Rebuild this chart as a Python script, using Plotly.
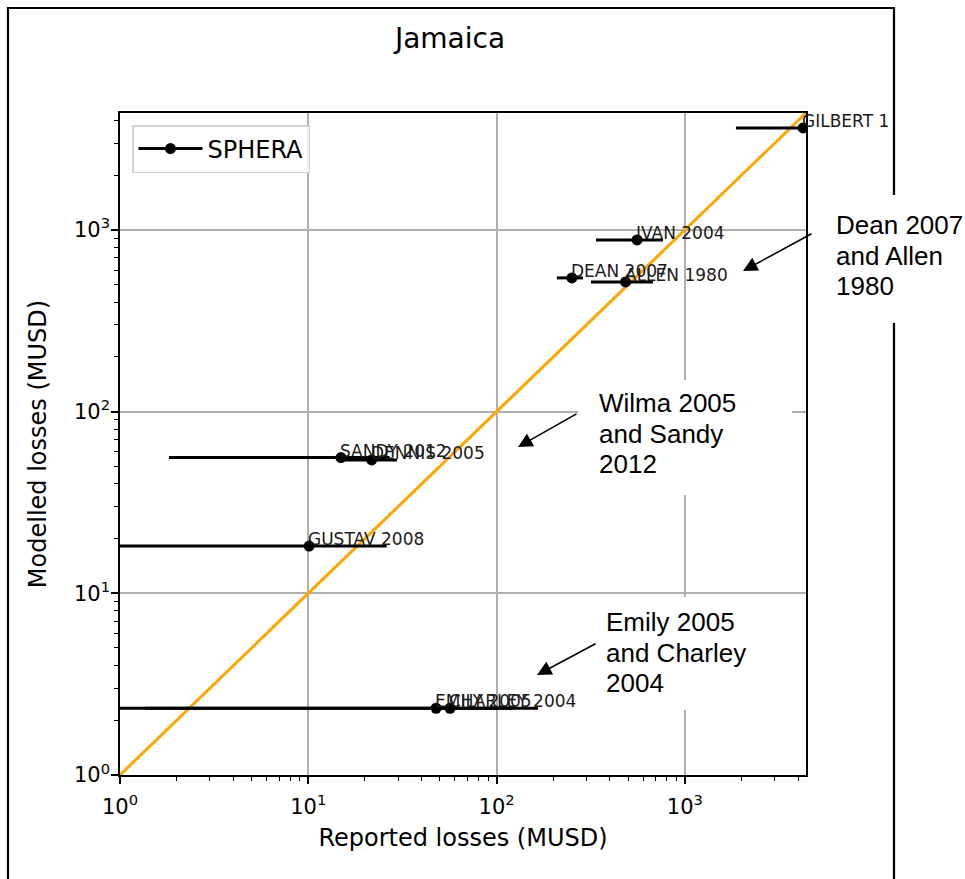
import math
import plotly.graph_objects as go

# ---------------- data ----------------
storm_names = ["GILBERT 1", "IVAN 2004", "DEAN 2007", "ALLEN 1980", "SANDY 2012",
               "DENNIS 2005", "GUSTAV 2008", "EMILY 2005", "CHARLEY 2004"]
reported = [4240, 557, 251, 484, 14.9, 21.7, 10.1, 47.7, 56.6]
modelled = [3640, 880, 544, 517, 55.8, 54.2, 18.2, 2.33, 2.33]
reported_low = [1866, 337, 209, 317, 1.82, 15.3, 0.5, 0.6, 1.36]
reported_high = [6000, 765, 288, 677, 27.0, 29.6, 26.1, 120, 166]
axis_limits = [1, 4400]
tick_values = [1, 10, 100, 1000]
tick_labels = ["10<sup>0</sup>", "10<sup>1</sup>", "10<sup>2</sup>", "10<sup>3</sup>"]
callout_texts = [["Dean 2007", "and Allen", "1980"],
                 ["Wilma 2005", "and Sandy", "2012"],
                 ["Emily 2005", "and Charley", "2004"]]

# ---------------- geometry helpers (pixels -> paper) ----------------
W, H = 965, 879
L, R, T, B = 120, 806, 113, 775
PW, PH = R - L, B - T


def px(xp):
    return (xp - L) / PW


def py(yp):
    return (B - yp) / PH


MPL = "DejaVu Sans"
ARIAL = "Liberation Sans"

err_plus = [h - x for h, x in zip(reported_high, reported)]
err_minus = [x - lo for x, lo in zip(reported, reported_low)]

fig = go.Figure()

# diagonal 1:1 line
fig.add_trace(go.Scatter(x=axis_limits, y=axis_limits, mode="lines",
                         line=dict(color="#FFA500", width=3), showlegend=False,
                         hoverinfo="skip"))

# data with horizontal error bars
fig.add_trace(go.Scatter(
    x=reported, y=modelled, mode="markers",
    marker=dict(color="black", size=11),
    error_x=dict(type="data", symmetric=False, array=err_plus, arrayminus=err_minus,
                 color="black", thickness=3, width=0),
    showlegend=False, text=storm_names))

# legend entry
fig.add_trace(go.Scatter(x=[None], y=[None], mode="lines+markers", name="SPHERA",
                         line=dict(color="black", width=3),
                         marker=dict(color="black", size=11)))

annotations = []
# point labels
for n, x, y in zip(storm_names, reported, modelled):
    annotations.append(dict(x=math.log10(x), y=math.log10(y),
                            xref="x", yref="y", text=n, showarrow=False,
                            xanchor="left", yanchor="bottom", xshift=-3, yshift=-5,
                            font=dict(family=MPL, size=17, color="#1a1a1a")))

# callout boxes (white background covering grid/frame)
boxes = [  # (x0, y0, x1, y1) in px
    (822, 195, 965, 323),
    (578, 380, 792, 495),
    (583, 597, 800, 710),
]
text_pos = [  # left x, first line center y
    (835, 225),
    (598, 403),
    (605, 622),
]
line_gap = 30.5
for (x0, y0, x1, y1) in boxes:
    annotations.append(dict(x=px(x0), y=py(y0), xref="paper", yref="paper",
                            text=" ", showarrow=False, xanchor="left", yanchor="top",
                            width=x1 - x0, height=y1 - y0, bgcolor="white",
                            borderpad=0, borderwidth=0))
for lines, (tx, ty) in zip(callout_texts, text_pos):
    for i, ln in enumerate(lines):
        annotations.append(dict(x=px(tx), y=py(ty + i * line_gap), xref="paper", yref="paper",
                                text=ln, showarrow=False, xanchor="left", yanchor="middle",
                                xshift=-1, font=dict(family=ARIAL, size=26, color="black")))

# arrows: (tail px, tip px)
arrows = [((813, 233), (743, 271)),
          ((578, 413), (518, 447)),
          ((597, 643), (537, 675))]
for (tx, ty), (hx, hy) in arrows:
    annotations.append(dict(x=px(hx), y=py(hy), xref="paper", yref="paper",
                            ax=tx - hx, ay=ty - hy, text="", showarrow=True,
                            arrowhead=2, arrowsize=1.8, arrowwidth=1.6,
                            arrowcolor="black", standoff=0, startstandoff=0))

axis_common = dict(
    type="log", range=[0, 3.643], tickmode="array", tickvals=tick_values,
    ticktext=tick_labels, ticks="outside", ticklen=7, tickwidth=1.6, tickcolor="black",
    showline=True, linecolor="black", linewidth=1.6, mirror=True,
    showgrid=True, gridcolor="#b0b0b0", gridwidth=1.5, zeroline=False,
    tickfont=dict(family=MPL, size=21, color="black"),
    minor=dict(ticks="outside", ticklen=4, tickwidth=1.2, tickcolor="black",
               dtick="D1", showgrid=False),
)

fig.update_layout(
    width=W, height=H,
    margin=dict(l=L, r=W - R, t=T, b=H - B, pad=0),
    paper_bgcolor="white", plot_bgcolor="white",
    title=dict(text="Jamaica", x=450 / W, y=1 - 38 / H, xanchor="center", yanchor="middle",
               xref="container", yref="container",
               font=dict(family=MPL, size=28, color="black")),
    xaxis=dict(axis_common, ticklabelstandoff=5,
               title=dict(text="Reported losses (MUSD)", standoff=11,
                          font=dict(family=MPL, size=24, color="black"))),
    yaxis=dict(axis_common, ticklabelstandoff=-3,
               title=dict(text="Modelled losses (MUSD)", standoff=21,
                          font=dict(family=MPL, size=24, color="black"))),
    legend=dict(x=px(132), y=py(125), xanchor="left", yanchor="top",
                bgcolor="rgba(255,255,255,0.8)", bordercolor="#d0d0d0", borderwidth=1.5,
                font=dict(family=MPL, size=24, color="black"), itemwidth=64),
    annotations=annotations,
    shapes=[dict(type="rect", xref="paper", yref="paper",
                 x0=px(8), x1=px(894), y0=py(905), y1=py(8),
                 line=dict(color="black", width=2.2), fillcolor="rgba(0,0,0,0)",
                 layer="above")],
    showlegend=True,
)

fig.write_html("out.html", config={"displayModeBar": False},
               post_script="document.body.style.margin='0px';")
